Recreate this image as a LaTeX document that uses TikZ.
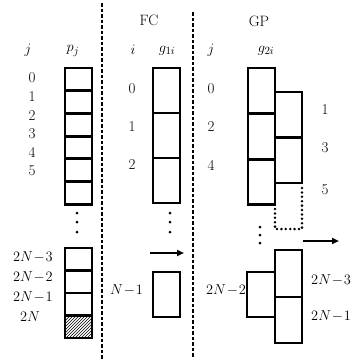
\documentclass[tikz,border=0pt]{standalone}
\usetikzlibrary{arrows.meta,patterns}
\begin{document}
\begin{tikzpicture}[x=1pt,y=-1pt,
  box/.style={line width=2.8pt},
  lab/.style={font=\fontsize{15}{18}\selectfont, inner sep=0pt},
  divider/.style={line width=1.8pt, dash pattern=on 3.5pt off 2pt},
  dotbox/.style={line width=2.8pt, dash pattern=on 0pt off 4.4pt, line cap=round},
  arr/.style={line width=2.2pt,-{Triangle[length=7pt,width=6pt]}},
  dotmark/.style={circle, fill, inner sep=0pt, minimum size=3pt}]
\useasboundingbox (0,0) rectangle (355,359);
% dividers
\coordinate (d1t) at (102,3);
\coordinate (d1b) at (102,359);
\coordinate (d2t) at (193,12);
\coordinate (d2b) at (193,359);
\draw[divider] (d1t) -- (d1b);
\draw[divider] (d2t) -- (d2b);
% ---------- p_j column ----------
\node[lab] (hj1) at (28,50) {$j$};
\node[lab] (hp) at (73,51) {$p_j$};
\foreach \k/\yy in {0/78,1/96.6,2/115.2,3/133.8,4/152.4,5/171}
  \node[lab] (pj\k) at (32,\yy) {\k};
\foreach \k in {0,...,5}
  \draw[box] (65,{68+22.7*\k}) rectangle (92,{68+22.7*(\k+1)});
\node[dotmark] (pd1) at (77,213) {};
\node[dotmark] (pd2) at (77,222) {};
\node[dotmark] (pd3) at (77,232) {};
\fill[pattern=north east lines] (65,316) rectangle (92,338);
\foreach \k in {0,...,3}
  \draw[box] (65,{248+22.5*\k}) rectangle (92,{248+22.5*(\k+1)});
\node[lab,anchor=east] (pl3) at (53,257) {$2N\!-\!3$};
\node[lab,anchor=east] (pl2) at (53,277) {$2N\!-\!2$};
\node[lab,anchor=east] (pl1) at (53,297) {$2N\!-\!1$};
\node[lab] (pl0) at (30,317) {$2N$};
% ---------- FC ----------
\node[lab] (fc) at (149,20) {FC};
\node[lab] (hi) at (133,50) {$i$};
\node[lab] (hg1) at (167,51) {$g_{1i}$};
\node[lab] (fi0) at (132,89) {0};
\node[lab] (fi1) at (132,127) {1};
\node[lab] (fi2) at (132,165) {2};
\foreach \k in {0,1,2}
  \draw[box] (153,{68+45*\k}) rectangle (180,{68+45*(\k+1)});
\node[dotmark] (fd1) at (170,213) {};
\node[dotmark] (fd2) at (170,222) {};
\node[dotmark] (fd3) at (170,232) {};
\coordinate (fa1) at (150,253);
\coordinate (fa2) at (184,253);
\draw[arr] (fa1) -- (fa2);
\draw[box] (153,272) rectangle (180,317);
\node[lab,anchor=east] (fn) at (143,290) {$N\!-\!1$};
% ---------- GP ----------
\node[lab] (gp) at (259,21) {GP};
\node[lab] (hj2) at (211,50) {$j$};
\node[lab] (hg2) at (266,51) {$g_{2i}$};
\node[lab] (gl0) at (211,89) {0};
\node[lab] (gl2) at (211,127) {2};
\node[lab] (gl4) at (211,165) {4};
\node[lab] (gr1) at (325,110) {1};
\node[lab] (gr3) at (325,148) {3};
\node[lab] (gr5) at (325,190) {5};
\foreach \k in {0,1,2}
  \draw[box] (248,{68+45.6*\k}) rectangle (275,{68+45.6*(\k+1)});
\foreach \k in {0,1}
  \draw[box] (275,{92+45.5*\k}) rectangle (302,{92+45.5*(\k+1)});
\draw[dotbox] (275,209) -- (275,229) -- (302,229) -- (302,187);
\node[dotmark] (gd1) at (260,227) {};
\node[dotmark] (gd2) at (260,235) {};
\node[dotmark] (gd3) at (260,243) {};
\coordinate (ga1) at (303,241);
\coordinate (ga2) at (339,241);
\draw[arr] (ga1) -- (ga2);
\draw[box] (247,272) rectangle (275,317);
\draw[box] (275,250) rectangle (302,297);
\draw[box] (275,297) rectangle (302,343);
\node[lab,anchor=west] (gn3) at (311,280) {$2N\!-\!3$};
\node[lab,anchor=west] (gn1) at (311,316) {$2N\!-\!1$};
\node[lab,anchor=east] (gn2) at (246,290) {$2N\!-\!2$};
\end{tikzpicture}
\end{document}
